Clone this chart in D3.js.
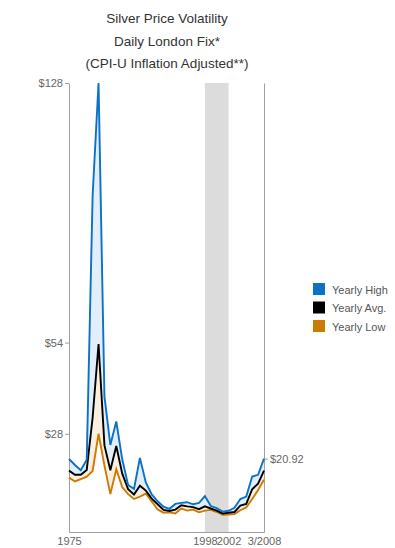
<!DOCTYPE html>
<html>
<head>
<meta charset="utf-8">
<script src="https://cdn.jsdelivr.net/npm/d3@7"></script>
<style>
  html, body { margin: 0; padding: 0; background: #fff; }
  svg { display: block; font-family: "Liberation Sans", Arial, sans-serif; }
</style>
</head>
<body>
<svg id="chart" width="395" height="548"></svg>
<script>
const years = [1975,1976,1977,1978,1979,1980,1981,1982,1983,1984,1985,1986,1987,1988,1989,1990,1991,1992,1993,1994,1995,1996,1997,1998,1999,2000,2001,2002,2003,2004,2005,2006,2007,2008];
const yearlyHigh = [20.8,19.1,17.6,20.6,96,128,38.6,24.8,31.5,20.8,13.4,12.3,21.1,14.1,10.7,8.75,7.2,6.6,8.0,8.3,8.5,7.9,8.3,10.2,7.4,6.8,5.8,6.05,6.9,9.4,10.1,15.8,16.3,20.92];
const yearlyAvg = [17.5,16.3,16.3,17.7,32.6,53.6,24.7,17.6,24.5,16.7,12.2,10.7,13.2,11.8,9.5,7.9,6.3,6.0,6.4,7.6,7.3,7.1,6.5,7.3,6.7,6.1,5.3,5.5,5.7,7.5,8.0,12.2,13.8,17.5];
const yearlyLow = [15.5,14.4,15.1,15.8,17.4,28.0,18.9,10.8,17.9,12.8,10.8,9.4,10.1,10.9,8.7,6.4,5.5,5.6,5.3,6.7,6.1,6.4,5.6,6.1,6.3,5.7,4.9,5.0,5.1,6.2,7.0,9.4,12.0,14.9];
const yTicks = [28, 54, 128];
const xTicks = [1975, 1998, 2002, 2008];
const xTickLabels = ["1975", "1998", "2002", "3/2008"];
const lastLabel = ["$20.92"];
const lastValue = [20.92];
const band = [1998, 2002];
const titleLines = ["Silver Price Volatility", "Daily London Fix*", "(CPI-U Inflation Adjusted**)"];
const seriesNames = ["Yearly High", "Yearly Avg.", "Yearly Low"];
const seriesColors = ["#0b72c6", "#000000", "#cc7a00"];

const svg = d3.select("#chart");
const x = d3.scaleLinear().domain([1975, 2008]).range([69, 264]);
const y = d3.scaleLinear().domain([0, 128]).range([532, 83]);

const data = years.map((yr, i) => ({ yr, hi: yearlyHigh[i], avg: yearlyAvg[i], lo: yearlyLow[i] }));

// title
svg.append("g").selectAll("text").data(titleLines).join("text")
  .attr("x", 167).attr("y", (d, i) => 23 + i * 22.5)
  .attr("text-anchor", "middle").attr("font-size", 13.5).attr("fill", "#333")
  .text(d => d);

// shaded band
svg.append("rect")
  .attr("x", x(band[0])).attr("width", x(band[1]) - x(band[0]))
  .attr("y", y(128)).attr("height", y(0) - y(128))
  .attr("fill", "#dcdcdc");

// areas
svg.append("path").datum(data)
  .attr("fill", "#e2eefa")
  .attr("d", d3.area().x(d => x(d.yr)).y0(d => y(d.avg)).y1(d => y(d.hi)));
svg.append("path").datum(data)
  .attr("fill", "#fcefdf")
  .attr("d", d3.area().x(d => x(d.yr)).y0(d => y(d.lo)).y1(d => y(d.avg)));

// axes
const axisStyle = g => {
  g.selectAll(".domain").attr("stroke", "#a0a0a0");
  g.selectAll(".tick line").attr("stroke", "#a0a0a0");
  g.selectAll("text").attr("fill", "#666").attr("font-size", 11)
    .attr("font-family", "Liberation Sans, Arial, sans-serif");
};
svg.append("g").attr("transform", "translate(69,0)")
  .call(d3.axisLeft(y).tickValues(yTicks).tickFormat(d => "$" + d).tickSize(4).tickSizeOuter(0).tickPadding(2))
  .call(axisStyle);
svg.append("g").attr("transform", "translate(264,0)")
  .call(d3.axisRight(y).tickValues(lastValue).tickFormat((d, i) => lastLabel[i]).tickSize(4).tickSizeOuter(0).tickPadding(2))
  .call(axisStyle);
svg.append("g").attr("transform", "translate(0,532)")
  .call(d3.axisBottom(x).tickValues(xTicks).tickFormat((d, i) => xTickLabels[i]).tickSize(0).tickSizeOuter(0).tickPadding(5))
  .call(axisStyle);

// lines
const keys = ["hi", "avg", "lo"];
[2, 1, 0].forEach(i => {
  svg.append("path").datum(data)
    .attr("fill", "none").attr("stroke", seriesColors[i]).attr("stroke-width", 1.9)
    .attr("stroke-linejoin", "miter")
    .attr("d", d3.line().x(d => x(d.yr)).y(d => y(d[keys[i]])));
});

// legend
const lg = svg.append("g").attr("transform", "translate(313,283)");
const items = lg.selectAll("g").data(seriesNames).join("g")
  .attr("transform", (d, i) => `translate(0,${i * 18.5})`);
items.append("rect").attr("width", 12).attr("height", 12).attr("fill", (d, i) => seriesColors[i]);
items.append("text").attr("x", 19).attr("y", 10.5).attr("font-size", 11).attr("fill", "#555").text(d => d);
</script>
</body>
</html>
